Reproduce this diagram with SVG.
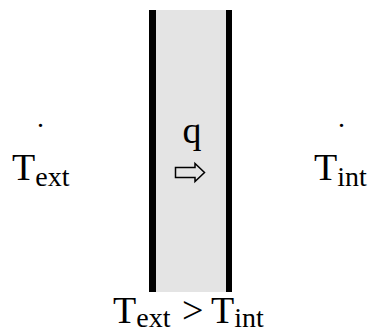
<svg xmlns="http://www.w3.org/2000/svg" width="369" height="333" viewBox="0 0 369 333">
<style>
text{font-family:"Liberation Serif","Times New Roman",serif;font-size:38px;fill:#000}
.s{font-size:28px}
.d{font-size:28px}
.bar{fill:#000}
</style>
<rect width="369" height="333" fill="#fff"/>
<g id="wall">
<rect x="155" y="10" width="71" height="282" fill="#e4e4e4"/>
<rect class="bar" x="149" y="10" width="7" height="282"/>
<rect class="bar" x="226" y="10" width="6" height="282"/>
</g>
<g id="flux">
<text x="192" y="143" text-anchor="middle">q</text>
<polygon points="175.5,167.5 195,167.5 195,163.5 204.5,172.5 195,181.5 195,177.5 175.5,177.5" fill="none" stroke="#000" stroke-width="1.5"/>
</g>
<g id="ext">
<text class="d" x="40.5" y="127" text-anchor="middle">.</text>
<text x="12" y="180">T<tspan class="s" dy="6">ext</tspan></text>
</g>
<g id="int">
<text class="d" x="341.5" y="127" text-anchor="middle">.</text>
<text x="314" y="180">T<tspan class="s" dy="6">int</tspan></text>
</g>
<g id="cond">
<text x="113" y="323">T<tspan class="s" dy="4">ext</tspan><tspan x="182" dy="-4">&gt;</tspan><tspan x="211">T</tspan><tspan class="s" dy="4">int</tspan></text>
</g>
<g id="connectors"/>
</svg>
